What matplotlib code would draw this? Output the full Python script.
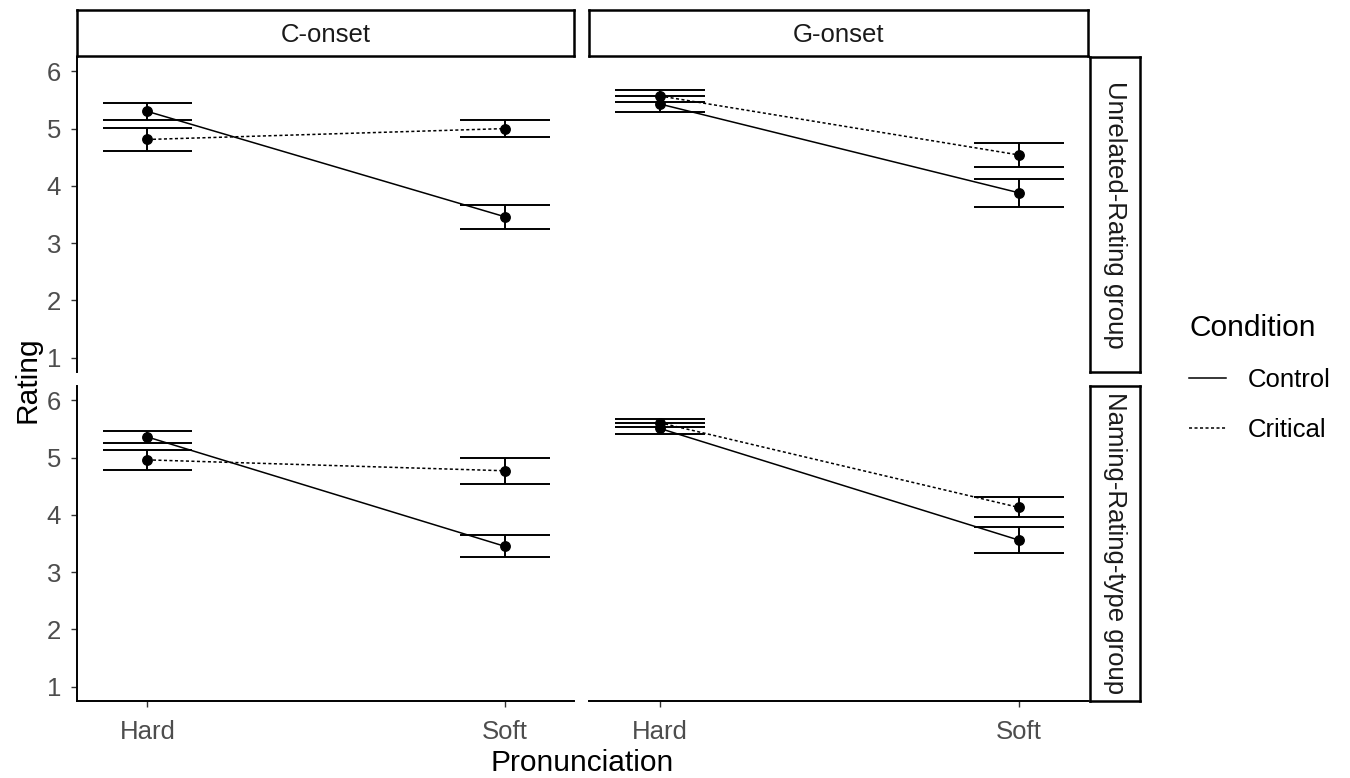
import matplotlib
matplotlib.use("Agg")
import matplotlib.pyplot as plt
from matplotlib.lines import Line2D
import numpy as np

plt.rcParams['font.family'] = ['Liberation Sans', 'DejaVu Sans']

# data
pronunciation = ["Hard", "Soft"]
onsets = ["C-onset", "G-onset"]
groups = ["Unrelated-Rating group", "Naming-Rating-type group"]
conditions = ["Control", "Critical"]

# [group][onset][pronunciation]
control_mean = [[[5.30, 3.46], [5.43, 3.88]],
                [[5.36, 3.45], [5.51, 3.56]]]
control_err = [[[0.15, 0.205], [0.14, 0.245]],
               [[0.11, 0.19], [0.10, 0.22]]]
critical_mean = [[[4.81, 5.00], [5.57, 4.54]],
                 [[4.96, 4.77], [5.61, 4.13]]]
critical_err = [[[0.20, 0.146], [0.10, 0.21]],
                [[0.18, 0.23], [0.07, 0.175]]]

y_ticks = [1, 2, 3, 4, 5, 6]

W, H = 1350, 778
fig = plt.figure(figsize=(W / 100, H / 100), dpi=100)

def box(x0, x1, y0, y1):
    # pixel box (top-left origin) -> figure fraction rect
    return [x0 / W, 1 - y1 / H, (x1 - x0) / W, (y1 - y0) / H]

col_x = [(77, 574), (589, 1088)]
row_y = [(57, 372), (386, 701)]

TXT = 18.5
TITLE = 21.5
tick_col = "#4D4D4D"
cap_half = 0.125
dotted = (0, (2.0, 1.6))
xpos = np.arange(len(pronunciation))

for gi, (y0, y1) in enumerate(row_y):
    for oi, (x0, x1) in enumerate(col_x):
        ax = fig.add_axes(box(x0, x1, y0, y1))
        series = [(control_mean, control_err, "-"),
                  (critical_mean, critical_err, dotted)]
        for means, errs, ls in series:
            m = np.array(means[gi][oi])
            e = np.array(errs[gi][oi])
            ax.vlines(xpos, m - e, m + e, color="black", lw=1.4)
            ax.hlines(m - e, xpos - cap_half, xpos + cap_half, color="black", lw=1.4)
            ax.hlines(m + e, xpos - cap_half, xpos + cap_half, color="black", lw=1.4)
            ax.plot(xpos, m, color="black", lw=1.1, linestyle=ls)
            ax.plot(xpos, m, "o", color="black", ms=6.8)
        ax.set_xlim(-0.197, 1.193)
        ax.set_ylim(0.75, 6.25)
        for s in ax.spines.values():
            s.set_visible(False)
        ax.tick_params(colors="#333333", labelcolor=tick_col, labelsize=TXT,
                       length=4.5, width=1.0)
        ax.tick_params(axis="y", pad=7)
        ax.tick_params(axis="x", pad=9)
        if oi == 0:
            ax.spines["left"].set_visible(True)
            ax.spines["left"].set_linewidth(1.4)
            ax.set_yticks(y_ticks)
            ax.set_yticklabels([str(t) for t in y_ticks])
        else:
            ax.set_yticks([])
        if gi == len(row_y) - 1:
            ax.spines["bottom"].set_visible(True)
            ax.spines["bottom"].set_linewidth(1.4)
            ax.set_xticks(xpos)
            ax.set_xticklabels(pronunciation)
        else:
            ax.set_xticks([])

# strips
for oi, (x0, x1) in enumerate(col_x):
    sx = fig.add_axes(box(x0, x1, 10, 56))
    sx.set_xticks([]); sx.set_yticks([])
    for s in sx.spines.values():
        s.set_linewidth(1.8)
    sx.text(0.5, 0.45, onsets[oi], ha="center", va="center", fontsize=TXT,
            color="#1A1A1A", transform=sx.transAxes)

for gi, (y0, y1) in enumerate(row_y):
    sx = fig.add_axes(box(1090, 1140, y0, y1))
    sx.set_xticks([]); sx.set_yticks([])
    for s in sx.spines.values():
        s.set_linewidth(1.8)
    sx.text(0.5, 0.5, groups[gi], ha="center", va="center", fontsize=TXT,
            color="#1A1A1A", rotation=-90, transform=sx.transAxes)

fig.text(28 / W, 1 - 380 / H, "Rating", rotation=90, ha="center", va="center",
         fontsize=TITLE)
fig.text(582 / W, 1 - 763 / H, "Pronunciation", ha="center", va="center",
         fontsize=TITLE)

handles = [Line2D([], [], color="black", lw=1.1, linestyle="-"),
           Line2D([], [], color="black", lw=1.1, linestyle=dotted)]
leg = fig.legend(handles, conditions, title="Condition", loc="upper left",
                 bbox_to_anchor=(1166 / W, 1 - 291 / H), frameon=False,
                 fontsize=TXT, title_fontsize=TITLE, alignment="left",
                 handlelength=1.45, handletextpad=0.85, labelspacing=1.0)

fig.savefig("out.png", dpi=100)
